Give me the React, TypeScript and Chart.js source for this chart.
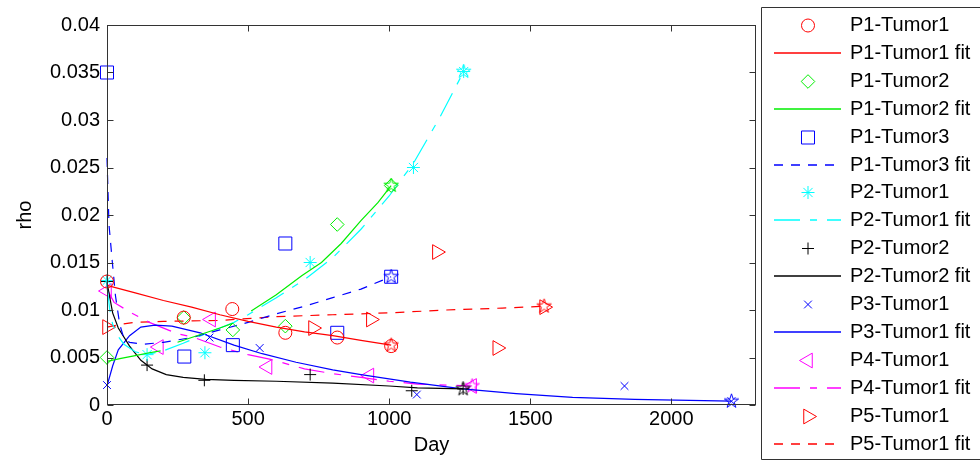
import React, { useEffect, useRef } from 'react';
import { Chart, registerables } from 'chart.js';
import { drawPoint } from 'chart.js/helpers';

Chart.register(...registerables);

// ---------- tick values / labels ----------
const xTickValues = [0, 500, 1000, 1500, 2000];
const xTickLabels = ['0', '500', '1000', '1500', '2000'];
const yTickValues = [0, 0.005, 0.01, 0.015, 0.02, 0.025, 0.03, 0.035, 0.04];
const yTickLabels = ['0', '0.005', '0.01', '0.015', '0.02', '0.025', '0.03', '0.035', '0.04'];

// ---------- observed data ----------
const p1t1Days = [0, 272, 444, 632, 816, 1007];
const p1t1Rho = [0.0130, 0.0092, 0.0101, 0.0076, 0.0071, 0.0062];

const p1t2Days = [0, 272, 446, 632, 816, 1007];
const p1t2Rho = [0.0050, 0.0092, 0.0079, 0.0083, 0.0190, 0.0231];

const p1t3Days = [0, 274, 446, 632, 816, 1007];
const p1t3Rho = [0.0350, 0.0051, 0.0063, 0.0170, 0.0076, 0.0135];

const p2t1Days = [0, 142, 347, 720, 1086, 1264];
const p2t1Rho = [0.0131, 0.0053, 0.0055, 0.0150, 0.0250, 0.0351];

const p2t2Days = [0, 142, 345, 720, 1080, 1262];
const p2t2Rho = [0.0130, 0.0042, 0.0026, 0.0032, 0.0015, 0.0017];

const p3t1Days = [0, 363, 541, 1098, 1834, 2213];
const p3t1Rho = [0.0021, 0.0071, 0.0060, 0.0011, 0.0020, 0.0004];

const p4t1Days = [0, 184, 369, 569, 930, 1294];
const p4t1Rho = [0.0120, 0.0061, 0.0090, 0.0040, 0.0031, 0.0020];

const p5t1Days = [0, 730, 935, 1169, 1383, 1549];
const p5t1Rho = [0.0082, 0.0081, 0.0090, 0.0161, 0.0060, 0.0103];

// ---------- fitted curves ----------
const p1t1FitDays = [0, 100, 200, 300, 400, 500, 600, 700, 800, 900, 1007];
const p1t1FitRho = [0.0126, 0.0118, 0.0110, 0.0103, 0.0095, 0.0088, 0.0082, 0.0077, 0.0073, 0.0068, 0.0063];

const p1t2FitDays = [0, 50, 100, 150, 190, 220, 250, 300, 350, 400, 446, 480, 511, 600, 690, 760, 830, 900, 960, 1007];
const p1t2FitRho = [0.0046, 0.0049, 0.0052, 0.0055, 0.0057, null, 0.0066, 0.0071, 0.0076, 0.0081, 0.0086, null, 0.0099, 0.0116, 0.0136, 0.0150, 0.0170, 0.0194, 0.0213, 0.0231];

const p1t3FitDays = [0, 7, 19, 30, 45, 60, 80, 130, 200, 300, 400, 500, 600, 700, 800, 900, 1007];
const p1t3FitRho = [0.0260, 0.0190, 0.0150, 0.0115, 0.0085, 0.0070, 0.0066, 0.0064, 0.0066, 0.0071, 0.0079, 0.0087, 0.0096, 0.0104, 0.0113, 0.0122, 0.0135];

const p2t1FitDays = [0, 10, 20, 40, 60, 100, 140, 200, 270, 350, 450, 500, 600, 700, 800, 900, 1000, 1087, 1180, 1264];
const p2t1FitRho = [0.0125, 0.0100, 0.0085, 0.0072, 0.0064, 0.0056, 0.0053, 0.0057, 0.0065, 0.0075, 0.0087, 0.0095, 0.0113, 0.0132, 0.0155, 0.0185, 0.0220, 0.0255, 0.0303, 0.0351];

const p2t2FitDays = [0, 20, 40, 80, 120, 160, 210, 270, 350, 450, 600, 800, 1000, 1100, 1262];
const p2t2FitRho = [0.0129, 0.0097, 0.0081, 0.0062, 0.0047, 0.0038, 0.0032, 0.0029, 0.0027, 0.0026, 0.0025, 0.0023, 0.0020, 0.0018, 0.0017];

const p3t1FitDays = [0, 20, 40, 80, 120, 170, 230, 330, 450, 550, 670, 800, 900, 1075, 1260, 1450, 1650, 1870, 2213];
const p3t1FitRho = [0.0020, 0.0041, 0.0058, 0.0073, 0.0082, 0.0084, 0.0083, 0.0076, 0.0063, 0.0054, 0.0045, 0.0037, 0.0032, 0.0024, 0.0017, 0.0012, 0.0008, 0.0006, 0.0004];

const p4t1FitDays = [0, 25, 80, 150, 250, 310, 400, 500, 580, 700, 800, 900, 1000, 1100, 1294];
const p4t1FitRho = [0.0122, 0.0108, 0.0098, 0.0087, 0.0075, 0.0071, 0.0061, 0.0053, 0.0048, 0.0038, 0.0033, 0.0029, 0.0025, 0.0022, 0.0020];

const p5t1FitDays = [0, 50, 100, 200, 400, 600, 800, 1000, 1200, 1400, 1549];
const p5t1FitRho = [0.0082, 0.0085, 0.0087, 0.0088, 0.0089, 0.0093, 0.0095, 0.0097, 0.0100, 0.0102, 0.0104];

// ---------- styles ----------
const RED = '#ff0000';
const GREEN = '#00ee00';
const BLUE = '#0000ff';
const CYAN = '#00ffff';
const BLACK = '#000000';
const MAGENTA = '#ff00ff';
const AXIS = '#333333';
const FONT = '"Liberation Sans", Arial, sans-serif';

const SOLID: number[] = [];
const DASHED = [9, 8];
const DASHDOT = [26, 10, 7, 10];

type Obs = { label: string; days: number[]; rho: number[]; color: string; style: string; radius: number; rotation: number };
type Fit = { label: string; days: number[]; rho: (number | null)[]; color: string; dash: number[] };

const observed: Obs[] = [
  { label: 'P1-Tumor1', days: p1t1Days, rho: p1t1Rho, color: RED, style: 'circle', radius: 6.5, rotation: 0 },
  { label: 'P1-Tumor2', days: p1t2Days, rho: p1t2Rho, color: GREEN, style: 'rectRot', radius: 6.8, rotation: 0 },
  { label: 'P1-Tumor3', days: p1t3Days, rho: p1t3Rho, color: BLUE, style: 'rect', radius: 9.2, rotation: 0 },
  { label: 'P2-Tumor1', days: p2t1Days, rho: p2t1Rho, color: CYAN, style: 'star', radius: 6.5, rotation: 0 },
  { label: 'P2-Tumor2', days: p2t2Days, rho: p2t2Rho, color: BLACK, style: 'cross', radius: 6, rotation: 0 },
  { label: 'P3-Tumor1', days: p3t1Days, rho: p3t1Rho, color: BLUE, style: 'crossRot', radius: 5.5, rotation: 0 },
  { label: 'P4-Tumor1', days: p4t1Days, rho: p4t1Rho, color: MAGENTA, style: 'triangle', radius: 8.5, rotation: -90 },
  { label: 'P5-Tumor1', days: p5t1Days, rho: p5t1Rho, color: RED, style: 'triangle', radius: 8.5, rotation: 90 },
];

const fits: Fit[] = [
  { label: 'P1-Tumor1 fit', days: p1t1FitDays, rho: p1t1FitRho, color: RED, dash: SOLID },
  { label: 'P1-Tumor2 fit', days: p1t2FitDays, rho: p1t2FitRho, color: GREEN, dash: SOLID },
  { label: 'P1-Tumor3 fit', days: p1t3FitDays, rho: p1t3FitRho, color: BLUE, dash: DASHED },
  { label: 'P2-Tumor1 fit', days: p2t1FitDays, rho: p2t1FitRho, color: CYAN, dash: DASHDOT },
  { label: 'P2-Tumor2 fit', days: p2t2FitDays, rho: p2t2FitRho, color: BLACK, dash: SOLID },
  { label: 'P3-Tumor1 fit', days: p3t1FitDays, rho: p3t1FitRho, color: BLUE, dash: SOLID },
  { label: 'P4-Tumor1 fit', days: p4t1FitDays, rho: p4t1FitRho, color: MAGENTA, dash: DASHDOT },
  { label: 'P5-Tumor1 fit', days: p5t1FitDays, rho: p5t1FitRho, color: RED, dash: DASHED },
];

function makePentagram(color: string): HTMLCanvasElement {
  const c = document.createElement('canvas');
  c.width = 17;
  c.height = 17;
  const g = c.getContext('2d')!;
  g.strokeStyle = color;
  g.lineWidth = 1;
  g.beginPath();
  const R = 7.5;
  const r = R * 0.382;
  for (let i = 0; i < 10; i++) {
    const rad = i % 2 === 0 ? R : r;
    const a = -Math.PI / 2 + (i * Math.PI) / 5;
    const px = 8.5 + rad * Math.cos(a);
    const py = 8.5 + rad * Math.sin(a);
    if (i === 0) g.moveTo(px, py);
    else g.lineTo(px, py);
  }
  g.closePath();
  g.stroke();
  return c;
}

export default function App() {
  const ref = useRef<HTMLCanvasElement | null>(null);

  useEffect(() => {
    const canvas = ref.current;
    if (!canvas) return;

    const datasets: any[] = [];
    observed.forEach((o, k) => {
      const f = fits[k];
      datasets.push({
        label: o.label,
        data: o.days.map((d, i) => ({ x: d, y: o.rho[i] })),
        showLine: false,
        pointStyle: o.style,
        pointRadius: o.radius,
        pointRotation: o.rotation,
        pointBorderColor: o.color,
        pointBackgroundColor: 'rgba(0,0,0,0)',
        borderColor: o.color,
        backgroundColor: 'rgba(0,0,0,0)',
        pointBorderWidth: 1,
        clip: false,
      });
      const n = f.days.length;
      const star = makePentagram(f.color);
      datasets.push({
        label: f.label,
        data: f.days.map((d, i) => ({ x: d, y: f.rho[i] })),
        showLine: true,
        borderColor: f.color,
        backgroundColor: 'rgba(0,0,0,0)',
        borderWidth: 1.2,
        borderDash: f.dash,
        spanGaps: false,
        tension: 0,
        pointRadius: (c: any) => (c.dataIndex === n - 1 ? 7 : 0),
        pointStyle: (c: any) => (c.dataIndex === n - 1 ? star : 'circle'),
        pointBorderColor: f.color,
        pointBackgroundColor: 'rgba(0,0,0,0)',
        clip: false,
      });
    });

    const framePlugin = {
      id: 'frame',
      afterDatasetsDraw(chart: any) {
        const { ctx, chartArea: a, scales } = chart;
        const xs = scales.x;
        const ys = scales.y;
        ctx.save();
        ctx.strokeStyle = AXIS;
        ctx.lineWidth = 1;
        ctx.setLineDash([]);
        const L = Math.round(a.left) + 0.5;
        const R = Math.round(a.right) - 0.5;
        const T = Math.round(a.top) + 0.5;
        const B = Math.round(a.bottom) - 0.5;
        ctx.strokeRect(L, T, R - L, B - T);
        const tl = 6;
        ctx.beginPath();
        xTickValues.forEach((v) => {
          const px = Math.round(xs.getPixelForValue(v)) + 0.5;
          ctx.moveTo(px, B);
          ctx.lineTo(px, B - tl);
          ctx.moveTo(px, T);
          ctx.lineTo(px, T + tl);
        });
        yTickValues.forEach((v) => {
          const py = Math.round(ys.getPixelForValue(v)) + 0.5;
          ctx.moveTo(L, py);
          ctx.lineTo(L + tl, py);
          ctx.moveTo(R, py);
          ctx.lineTo(R - tl, py);
        });
        ctx.stroke();
        ctx.restore();
      },
    };

    const legendPlugin = {
      id: 'matlabLegend',
      afterDraw(chart: any) {
        const ctx = chart.ctx;
        ctx.save();
        ctx.strokeStyle = AXIS;
        ctx.lineWidth = 1;
        ctx.setLineDash([]);
        ctx.beginPath();
        ctx.moveTo(990, 7.5);
        ctx.lineTo(761.5, 7.5);
        ctx.lineTo(761.5, 459.5);
        ctx.lineTo(990, 459.5);
        ctx.stroke();
        const items: any[] = [];
        observed.forEach((o, k) => {
          items.push({ kind: 'marker', ...o });
          items.push({ kind: 'line', ...fits[k] });
        });
        items.forEach((it, i) => {
          const yc = 25 + i * 27.9;
          if (it.kind === 'marker') {
            ctx.lineWidth = 1;
            ctx.setLineDash([]);
            ctx.strokeStyle = it.color;
            ctx.fillStyle = 'rgba(0,0,0,0)';
            drawPoint(ctx, { pointStyle: it.style, radius: it.radius, rotation: it.rotation, borderWidth: 1 } as any, 808, Math.round(yc) + 0.5);
          } else {
            const yl = Math.round(yc);
            ctx.lineWidth = 1.6;
            ctx.strokeStyle = it.color;
            ctx.setLineDash(it.dash);
            ctx.beginPath();
            ctx.moveTo(774, yl);
            ctx.lineTo(841, yl);
            ctx.stroke();
            ctx.setLineDash([]);
          }
          ctx.fillStyle = '#000';
          ctx.font = `20px ${FONT}`;
          ctx.textAlign = 'left';
          ctx.textBaseline = 'middle';
          ctx.fillText(it.label, 850, yc + 0.5);
        });
        ctx.restore();
      },
    };

    const chart = new Chart(canvas, {
      type: 'scatter',
      data: { datasets },
      options: {
        animation: false,
        responsive: false,
        events: [],
        layout: { padding: { left: 0, top: 25, right: 224, bottom: 0 } },
        plugins: { legend: { display: false }, tooltip: { enabled: false } },
        scales: {
          x: {
            type: 'linear',
            min: 0,
            max: 2300,
            grid: { display: false, drawTicks: false },
            border: { display: false },
            afterBuildTicks: (s: any) => {
              s.ticks = xTickValues.map((value) => ({ value }));
            },
            afterFit: (s: any) => {
              s.height = 61;
            },
            ticks: {
              color: '#000',
              font: { size: 20, family: FONT },
              padding: 2,
              maxRotation: 0,
              autoSkip: false,
              callback: (_v: any, i: number) => xTickLabels[i],
            },
            title: {
              display: true,
              text: 'Day',
              color: '#000',
              font: { size: 20, family: FONT },
              padding: { top: 4, bottom: 9 },
            },
          },
          y: {
            type: 'linear',
            min: 0,
            max: 0.04,
            grid: { display: false, drawTicks: false },
            border: { display: false },
            afterBuildTicks: (s: any) => {
              s.ticks = yTickValues.map((value) => ({ value }));
            },
            afterFit: (s: any) => {
              s.width = 107;
            },
            ticks: {
              color: '#000',
              font: { size: 20, family: FONT },
              padding: 7,
              autoSkip: false,
              callback: (_v: any, i: number) => yTickLabels[i],
            },
            title: {
              display: true,
              text: 'rho',
              color: '#000',
              font: { size: 20, family: FONT },
              padding: { top: 13, bottom: 4 },
            },
          },
        },
      } as any,
      plugins: [framePlugin, legendPlugin],
    });

    return () => chart.destroy();
  }, []);

  return (
    <div style={{ position: 'absolute', left: 0, top: 0, width: 980, height: 466, background: '#fff' }}>
      <canvas ref={ref} width={980} height={466} style={{ width: 980, height: 466, display: 'block' }} />
    </div>
  );
}
